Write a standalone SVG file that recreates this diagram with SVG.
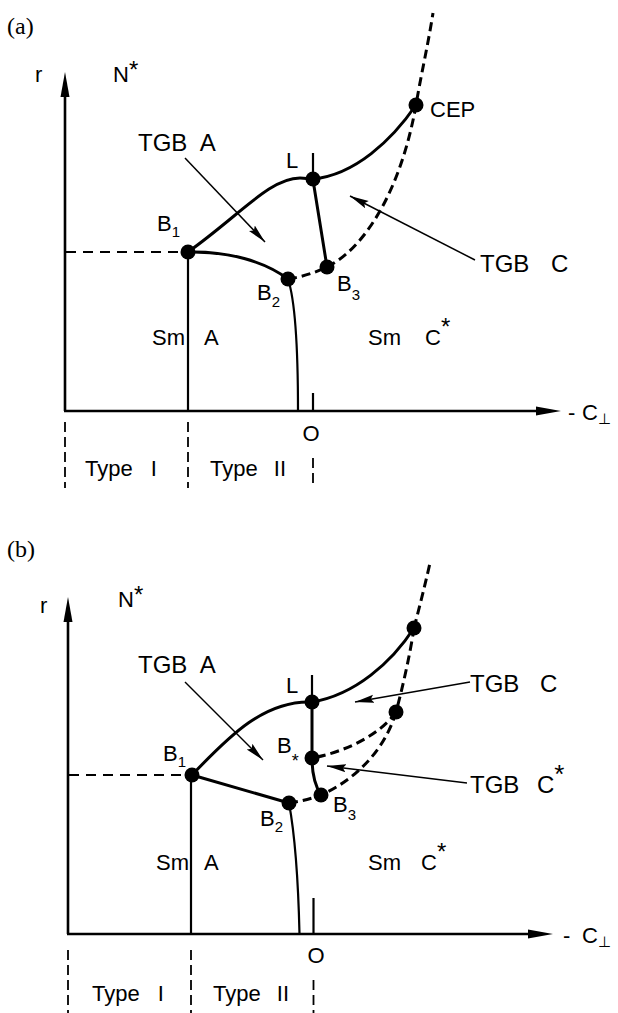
<svg xmlns="http://www.w3.org/2000/svg" width="618" height="1013" viewBox="0 0 618 1013">
<style>
.t{font-family:"Liberation Sans",Arial,sans-serif;font-size:22px;fill:#000}
.tg{font-family:"Liberation Sans",Arial,sans-serif;font-size:24px;fill:#000}
.pl{font-family:"Liberation Serif","Times New Roman",serif;font-size:24px;fill:#000}
.sub{font-size:15px}
.ax{stroke:#000;stroke-width:2.6;fill:none}
.ph{stroke:#000;stroke-width:3;fill:none;stroke-linecap:round}
.th{stroke:#000;stroke-width:2.2;fill:none}
.dp{stroke:#000;stroke-width:3;fill:none;stroke-dasharray:9 5}
.dh{stroke:#000;stroke-width:2;fill:none;stroke-dasharray:10 7}
.dt{stroke:#000;stroke-width:1.8;fill:none;stroke-dasharray:10 5}
.ar{stroke:#000;stroke-width:1.5;fill:none;marker-end:url(#ah)}
.pt{fill:#000}
</style>
<defs>
<marker id="ah" markerUnits="userSpaceOnUse" markerWidth="20" markerHeight="10" refX="19" refY="4.5" orient="auto">
<path d="M0,0.5 L19,4.5 L0,8.5 L3,4.5 z" fill="#000"/>
</marker>
</defs>
<rect width="618" height="1013" fill="#fff"/>

<!-- Panel (a) -->
<g id="panel-a">
<text class="pl" x="7" y="34">(a)</text>
<g id="axes-a">
<line class="ax" x1="65" y1="95" x2="65" y2="411"/>
<polygon points="65,72 60.5,97 69.5,97"/>
<line class="ax" x1="64" y1="411" x2="538" y2="411"/>
<polygon points="561,411 536,406.5 536,415.5"/>
<line class="th" x1="313" y1="393" x2="313" y2="411"/>
<text class="t" x="35" y="82">r</text>
<text class="t" x="568" y="420">-<tspan x="582">C</tspan><tspan class="sub" dy="4">⊥</tspan></text>
<text class="t" x="311" y="441" text-anchor="middle">O</text>
</g>
<g id="connectors-a">
<line class="dh" x1="66" y1="252" x2="188" y2="252"/>
<line class="th" x1="188" y1="252" x2="188" y2="411"/>
<path class="ph" d="M188,252 C240,215 270,178 300,178 Q307,178 313,180"/>
<path class="ph" d="M313,179 C355,175 392,140 416,105"/>
<path class="ph" d="M188,252 C230,251 265,262 288,279"/>
<path class="th" d="M288,279 C295,300 298,340 298,411"/>
<path class="ph" d="M327,267 L313,180"/>
<line class="th" x1="313" y1="153" x2="313" y2="180"/>
<path class="dp" d="M288,279 Q308,276 327,267"/>
<path class="dp" d="M327,267 C362,250 400,195 416,105 C421,75 428,45 433,13"/>
<line class="ar" x1="185" y1="158" x2="265" y2="242"/>
<line class="ar" x1="475" y1="260" x2="350" y2="196"/>
<line class="dt" x1="65" y1="422" x2="65" y2="488"/>
<line class="dt" x1="188" y1="422" x2="188" y2="488"/>
<line class="dt" x1="313" y1="458" x2="313" y2="488"/>
</g>
<g id="B1-a"><circle class="pt" cx="188" cy="252" r="7.5"/><text class="t" x="157" y="231">B<tspan class="sub" dy="6">1</tspan></text></g>
<g id="B2-a"><circle class="pt" cx="288" cy="279" r="7.5"/><text class="t" x="257" y="300">B<tspan class="sub" dy="7">2</tspan></text></g>
<g id="B3-a"><circle class="pt" cx="327" cy="267" r="7.5"/><text class="t" x="337" y="291">B<tspan class="sub" dy="9">3</tspan></text></g>
<g id="L-a"><circle class="pt" cx="313" cy="179" r="7.5"/><text class="t" x="286" y="168">L</text></g>
<g id="CEP-a"><circle class="pt" cx="416" cy="105" r="7.5"/><text class="t" x="430" y="117">CEP</text></g>
<g id="labels-a">
<text class="t" x="113" y="82">N<tspan font-size="24" dy="-4">*</tspan></text>
<text class="tg" x="138" y="151" word-spacing="7">TGB A</text>
<text class="tg" x="480" y="272" word-spacing="15">TGB C</text>
<text class="t" x="152" y="345" word-spacing="14">Sm A</text>
<text class="t" x="368" y="345" word-spacing="18">Sm C<tspan font-size="24" dy="-10">*</tspan></text>
<text class="t" x="85" y="476" word-spacing="12">Type I</text>
<text class="t" x="210" y="476" word-spacing="10">Type II</text>
</g>
</g>

<!-- Panel (b) -->
<g id="panel-b">
<text class="pl" x="7" y="557">(b)</text>
<g id="axes-b">
<line class="ax" x1="68" y1="620" x2="68" y2="934"/>
<polygon points="68,597 63.5,622 72.5,622"/>
<line class="ax" x1="67" y1="934" x2="530" y2="934"/>
<polygon points="553,934 528,929.5 528,938.5"/>
<line class="th" x1="313.5" y1="898" x2="313.5" y2="934"/>
<text class="t" x="40" y="613">r</text>
<text class="t" x="563" y="943">-<tspan x="582">C</tspan><tspan class="sub" dy="4">⊥</tspan></text>
<text class="t" x="316" y="963" text-anchor="middle">O</text>
</g>
<g id="connectors-b">
<line class="dh" x1="69" y1="775" x2="191" y2="775"/>
<line class="th" x1="191" y1="775" x2="191" y2="934"/>
<path class="ph" d="M192,775 C230,735 265,700 312,702"/>
<path class="ph" d="M312,702 C355,695 392,662 414,628"/>
<path class="ph" d="M192,775 L289,803"/>
<path class="th" d="M289,803 C294,830 298,870 299.5,934"/>
<line class="th" x1="312" y1="675" x2="312" y2="702"/>
<path class="ph" d="M312,702 L312,758"/>
<path class="ph" d="M312,758 Q312,781 321,795"/>
<path class="dp" d="M289,803 Q305,801 321,795"/>
<path class="dp" d="M414,628 C420,605 425,585 430,563"/>
<path class="dp" d="M414,628 C410,655 402,690 396,712"/>
<path class="dp" d="M396,712 C380,735 345,752 312,758"/>
<path class="dp" d="M396,712 C385,750 355,780 321,795"/>
<line class="ar" x1="185" y1="682" x2="263" y2="760"/>
<line class="ar" x1="470" y1="682" x2="355" y2="702"/>
<line class="ar" x1="467" y1="783" x2="327" y2="766"/>
<line class="dt" x1="68" y1="950" x2="68" y2="1013"/>
<line class="dt" x1="191" y1="950" x2="191" y2="1013"/>
<line class="dt" x1="313.5" y1="980" x2="313.5" y2="1013"/>
</g>
<g id="B1-b"><circle class="pt" cx="192" cy="775" r="7.5"/><text class="t" x="163" y="761">B<tspan class="sub" dy="6">1</tspan></text></g>
<g id="B2-b"><circle class="pt" cx="289" cy="803" r="7.5"/><text class="t" x="260" y="826">B<tspan class="sub" dy="6">2</tspan></text></g>
<g id="B3-b"><circle class="pt" cx="321" cy="795" r="7.5"/><text class="t" x="333" y="812">B<tspan class="sub" dy="8">3</tspan></text></g>
<g id="Bstar-b"><circle class="pt" cx="312" cy="758" r="7.5"/><text class="t" x="277" y="753">B<tspan font-size="18" dy="14">*</tspan></text></g>
<g id="L-b"><circle class="pt" cx="312" cy="702" r="7.5"/><text class="t" x="286" y="693">L</text></g>
<g id="P1-b"><circle class="pt" cx="414" cy="628" r="7.5"/></g>
<g id="P2-b"><circle class="pt" cx="396" cy="712" r="7.5"/></g>
<g id="labels-b">
<text class="t" x="118" y="607">N<tspan font-size="24" dy="-4">*</tspan></text>
<text class="tg" x="138" y="673" word-spacing="7">TGB A</text>
<text class="tg" x="470" y="692" word-spacing="14">TGB C</text>
<text class="tg" x="470" y="793" word-spacing="11">TGB C<tspan font-size="26" dy="-10">*</tspan></text>
<text class="t" x="156" y="870" word-spacing="10">Sm A</text>
<text class="t" x="368" y="870" word-spacing="14">Sm C<tspan font-size="24" dy="-10">*</tspan></text>
<text class="t" x="92" y="1001" word-spacing="12">Type I</text>
<text class="t" x="213" y="1001" word-spacing="10">Type II</text>
</g>
</g>
</svg>
